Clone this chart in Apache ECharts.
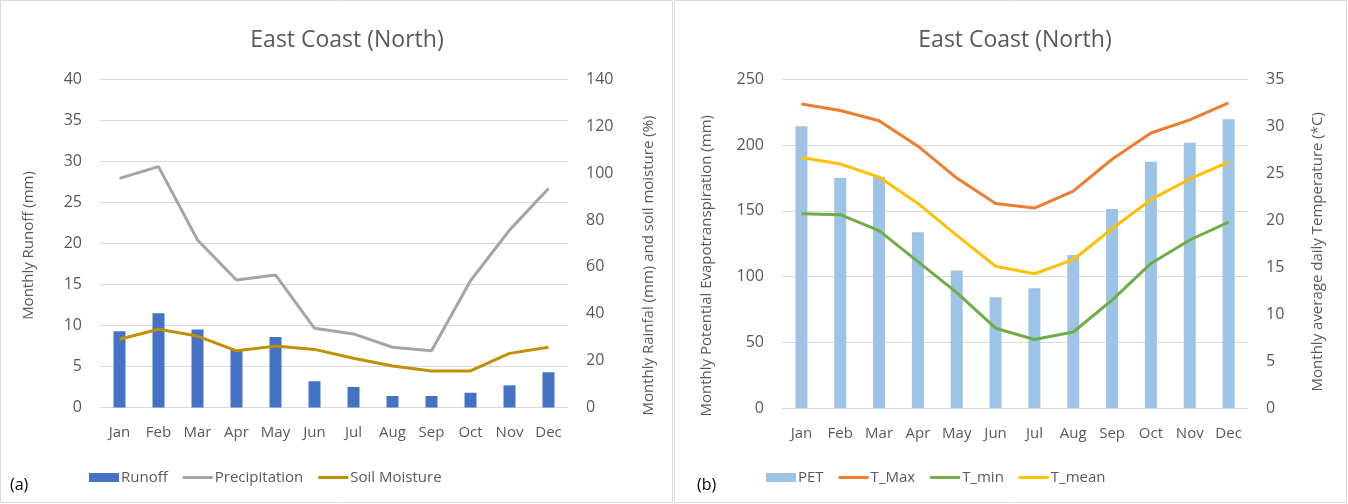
<!DOCTYPE html>
<html>
<head>
<meta charset="utf-8">
<script src="https://cdn.jsdelivr.net/npm/echarts@6/dist/echarts.min.js"></script>
<style>
  html, body { margin: 0; padding: 0; background: #fff; }
  #chart { width: 1348px; height: 504px; }
</style>
</head>
<body>
<div id="chart"></div>
<script>
// Monthly water balance and climate, East Coast (North)
const months = ['Jan', 'Feb', 'Mar', 'Apr', 'May', 'Jun', 'Jul', 'Aug', 'Sep', 'Oct', 'Nov', 'Dec'];

// Panel (a)
const runoff = [9.3, 11.5, 9.5, 7.0, 8.6, 3.2, 2.5, 1.4, 1.4, 1.8, 2.7, 4.3];
const precipitation = [97.8, 102.8, 71.5, 54.4, 56.6, 33.8, 31.4, 25.7, 24.2, 54.1, 75.7, 93.5];
const soilMoisture = [29.1, 33.4, 30.5, 24.2, 26.2, 24.8, 21.0, 17.7, 15.6, 15.6, 23.1, 25.7];

// Panel (b)
const pet = [214.5, 175.2, 176.0, 133.7, 104.6, 84.3, 91.2, 116.5, 151.4, 187.4, 201.8, 219.8];
const tMax = [32.4, 31.7, 30.6, 27.9, 24.5, 21.8, 21.3, 23.1, 26.5, 29.3, 30.7, 32.5];
const tMin = [20.7, 20.6, 18.9, 15.6, 12.3, 8.5, 7.3, 8.1, 11.5, 15.4, 17.9, 19.8];
const tMean = [26.7, 26.0, 24.6, 21.8, 18.4, 15.1, 14.3, 15.8, 19.1, 22.2, 24.4, 26.2];

const FONT = 'Open Sans';
const TXT = '#595959';
const GRID = '#d9d9d9';
// thin horizontal bar used as the legend marker of line series
const LINE_ICON = 'path://M0,0H30V3H0Z';

function catAxis(gridIndex) {
  return {
    type: 'category', gridIndex, data: months,
    axisLine: { show: true, lineStyle: { color: GRID, width: 1 } },
    axisTick: { show: false },
    axisLabel: { color: TXT, fontFamily: FONT, fontSize: 15, margin: 18, interval: 0 },
    splitLine: { show: false }
  };
}
function valAxis(gridIndex, pos, max, interval, name, nameGap, shiftDown, showSplit) {
  return {
    type: 'value', gridIndex, position: pos, min: 0, max, interval,
    name, nameLocation: 'middle', nameGap, nameRotate: 90,
    nameTextStyle: { color: TXT, fontFamily: FONT, fontSize: 15, padding: [0, shiftDown * 2, 0, 0] },
    axisLine: { show: false }, axisTick: { show: false },
    axisLabel: { color: TXT, fontFamily: FONT, fontSize: 16, margin: 18 },
    splitLine: { show: showSplit, lineStyle: { color: GRID, width: 1 } }
  };
}
function lineSeries(name, data, color, xi, yi) {
  return {
    name, type: 'line', data, xAxisIndex: xi, yAxisIndex: yi,
    symbol: 'none', lineStyle: { color, width: 3 }, itemStyle: { color },
    z: 3
  };
}
function legend(items, left) {
  return {
    data: items.map(([name, isLine]) => isLine ? { name, icon: LINE_ICON } : { name, icon: 'rect' }),
    left, top: 470, padding: 0, itemWidth: 30, itemHeight: 9, itemGap: 15, symbolKeepAspect: true,
    textStyle: { color: TXT, fontFamily: FONT, fontSize: 15, padding: [0, 0, 0, -3] }
  };
}

const chart = echarts.init(document.getElementById('chart'), null, { renderer: 'canvas' });
chart.setOption({
  animation: false,
  backgroundColor: '#ffffff',
  textStyle: { fontFamily: FONT },
  title: [
    { text: 'East Coast (North)', left: 342, top: 24, textAlign: 'center',
      textStyle: { color: TXT, fontFamily: FONT, fontSize: 23, fontWeight: 'normal' } },
    { text: 'East Coast (North)', left: 1010, top: 24, textAlign: 'center',
      textStyle: { color: TXT, fontFamily: FONT, fontSize: 23, fontWeight: 'normal' } }
  ],
  legend: [
    legend([['Runoff', false], ['Precipitation', true], ['Soil Moisture', true]], 89),
    legend([['PET', false], ['T_Max', true], ['T_min', true], ['T_mean', true]], 766)
  ],
  graphic: [
    { type: 'rect', shape: { x: 0.5, y: 0.5, width: 672, height: 502 },
      style: { fill: 'none', stroke: GRID, lineWidth: 1 }, silent: true },
    { type: 'rect', shape: { x: 674.5, y: 0.5, width: 672, height: 502 },
      style: { fill: 'none', stroke: GRID, lineWidth: 1 }, silent: true },
    { type: 'text', left: 10, top: 477,
      style: { text: '(a)', fill: '#000', font: '16px ' + FONT } },
    { type: 'text', left: 697, top: 477,
      style: { text: '(b)', fill: '#000', font: '16px ' + FONT } }
  ],
  grid: [
    { left: 100, right: 780, top: 79.5, bottom: 96.5 },
    { left: 782, right: 100, top: 79.5, bottom: 96 }
  ],
  xAxis: [catAxis(0), catAxis(1)],
  yAxis: [
    valAxis(0, 'left', 40, 5, 'Monthly Runoff (mm)', 64, 2, true),
    valAxis(0, 'right', 140, 20, 'Monthly Rainfal (mm) and soil moisture (%)', 73, 22, false),
    valAxis(1, 'left', 250, 50, 'Monthly Potential Evapotranspiration (mm)', 68, 22, true),
    valAxis(1, 'right', 35, 5, 'Monthly average daily Temperature (*C)', 62, 8, false)
  ],
  series: [
    { name: 'Runoff', type: 'bar', data: runoff, xAxisIndex: 0, yAxisIndex: 0,
      barWidth: 12, itemStyle: { color: '#4472C4' }, z: 2 },
    lineSeries('Precipitation', precipitation, '#A5A5A5', 0, 1),
    lineSeries('Soil Moisture', soilMoisture, '#BF9000', 0, 1),
    { name: 'PET', type: 'bar', data: pet, xAxisIndex: 1, yAxisIndex: 2,
      barWidth: 12, itemStyle: { color: '#9DC3E6' }, z: 2 },
    lineSeries('T_Max', tMax, '#ED7D31', 1, 3),
    lineSeries('T_min', tMin, '#70AD47', 1, 3),
    lineSeries('T_mean', tMean, '#FFC000', 1, 3)
  ]
});
</script>
</body>
</html>
